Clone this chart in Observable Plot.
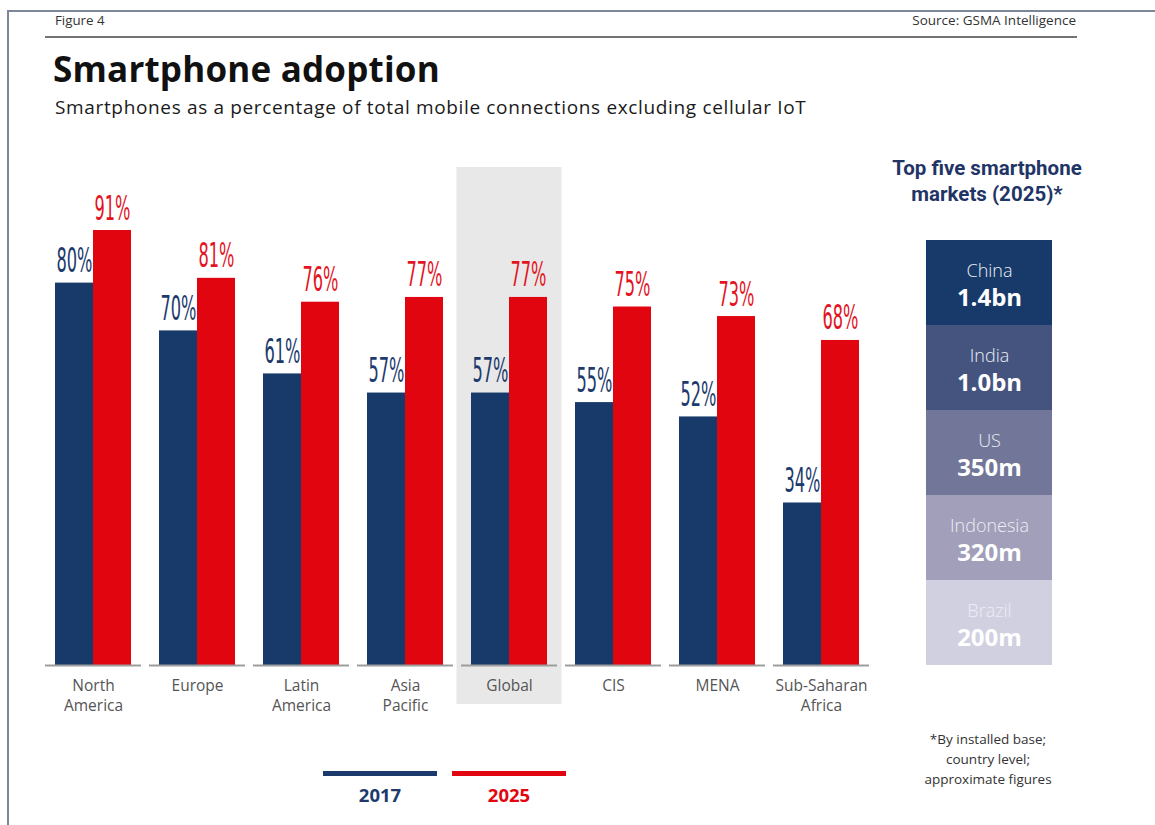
<!DOCTYPE html>
<html>
<head>
<meta charset="utf-8">
<script src="https://cdn.jsdelivr.net/npm/d3@7"></script>
<script src="https://cdn.jsdelivr.net/npm/@observablehq/plot@0.6"></script>
<style>
  html, body { margin: 0; padding: 0; background: #fff; }
  #page { position: relative; width: 1155px; height: 825px; overflow: hidden; background: #fff; font-family: "Open Sans", sans-serif; }
  .abs { position: absolute; }
  #frame { left: 7px; top: 10px; width: 1160px; height: 830px; border-top: 2px solid #7d8799; border-left: 2px solid #7d8799; }
  #fig { left: 55px; top: 11px; font-size: 13.3px; color: #333; }
  #src { right: 79px; top: 11px; font-size: 13.5px; color: #333; }
  #hline { left: 45px; top: 36px; width: 1032px; height: 2px; background: #737373; }
  #title { left: 53px; top: 45px; font-size: 35px; font-weight: 700; color: #111; letter-spacing: 0.2px; }
  #subtitle { left: 55px; top: 94px; font-size: 19px; letter-spacing: 0.65px; color: #1a1a1a; }
  #bars { left: 0; top: 140px; }
  #sidetitle { left: 868px; top: 155px; width: 238px; text-align: center; font-family: Roboto, sans-serif; font-weight: 700; font-size: 20.5px; line-height: 26px; color: #1f3566; }
  #side { left: 926px; top: 239px; }
  #note { left: 888px; top: 729px; width: 200px; text-align: center; font-size: 13.5px; line-height: 20px; color: #333; }
  .lg { height: 5px; top: 771px; width: 114px; }
  .lgt { top: 782px; width: 114px; text-align: center; font-size: 18.5px; font-weight: 700; }
</style>
</head>
<body>
<div id="page">
  <div id="frame" class="abs"></div>
  <div id="fig" class="abs">Figure 4</div>
  <div id="src" class="abs">Source: GSMA Intelligence</div>
  <div id="hline" class="abs"></div>
  <div id="title" class="abs">Smartphone adoption</div>
  <div id="subtitle" class="abs">Smartphones as a percentage of total mobile connections excluding cellular IoT</div>
  <div id="bars" class="abs"></div>
  <div id="sidetitle" class="abs">Top five smartphone<br>markets (2025)*</div>
  <div id="side" class="abs"></div>
  <div id="note" class="abs">*By installed base;<br>country level;<br>approximate figures</div>
  <div class="abs lg" style="left:323px;background:#1c3a6c"></div>
  <div class="abs lg" style="left:452px;background:#e1050f"></div>
  <div class="abs lgt" style="left:323px;color:#1c3a6c">2017</div>
  <div class="abs lgt" style="left:452px;color:#e1050f">2025</div>
</div>
<script>
// ---- data ----
const regions = ["North America", "Europe", "Latin America", "Asia Pacific", "Global", "CIS", "MENA", "Sub-Saharan Africa"];
const regionLabels = ["North\nAmerica", "Europe", "Latin\nAmerica", "Asia\nPacific", "Global", "CIS", "MENA", "Sub-Saharan\nAfrica"];
const years = ["2017", "2025"];
const share2017 = [80, 70, 61, 57, 57, 55, 52, 34];
const share2025 = [91, 81, 76, 77, 77, 75, 73, 68];
const highlighted = ["Global"];
const markets = ["China", "India", "US", "Indonesia", "Brazil"];
const marketValues = ["1.4bn", "1.0bn", "350m", "320m", "200m"];

// ---- styles ----
const yearColors = ["#173a6b", "#e1050f"];
const yearLabelColors = ["#1c3a6c", "#e3141f"];
const marketColors = ["#173a6a", "#45547f", "#727799", "#a19fba", "#d1d0e1"];

const table = [];
regions.forEach((r, i) => {
  table.push({region: r, year: years[0], value: share2017[i]});
  table.push({region: r, year: years[1], value: share2025[i]});
});

const chart = Plot.plot({
  width: 880,
  height: 590,
  marginLeft: 44,
  marginRight: 10,
  marginTop: 47,
  marginBottom: 65,
  fx: {domain: regions, paddingInner: 0.079, paddingOuter: 0, axis: null, label: null},
  x: {domain: years, paddingInner: 0, paddingOuter: 0.245, axis: null},
  y: {domain: [0, 100], axis: null},
  color: {domain: years, range: yearColors},
  marks: [
    Plot.rect(highlighted.map(r => ({region: r})), {
      fx: "region", fill: "#e8e8e8",
      insetTop: -20, insetBottom: -39, insetLeft: -4.5, insetRight: -4.5
    }),
    Plot.barY(table, {fx: "region", x: "year", y: "value", fill: "year"}),
    Plot.ruleY([0], {stroke: "#9d9d9d", strokeWidth: 2}),
    Plot.text(table, {
      fx: "region", x: "year", y: "value",
      text: d => d.value + "%",
      fill: d => yearLabelColors[years.indexOf(d.year)],
      lineAnchor: "bottom", dy: -11,
      fontSize: 34, fontFamily: "Liberation Sans Narrow, DejaVu Sans Condensed, Liberation Sans, sans-serif",
      className: "vlab"
    }),
    Plot.text(regions, {
      fx: d => d, text: (d, i) => regionLabels[i],
      frameAnchor: "bottom", lineAnchor: "top", dy: 11, lineHeight: 1.3,
      fontSize: 15.5, fill: "#555", fontFamily: "Open Sans, sans-serif"
    })
  ]
});
document.getElementById("bars").appendChild(chart);

// condense the value labels horizontally
d3.select(chart).selectAll(".vlab text").each(function() {
  const t = this.getAttribute("transform") || "";
  this.setAttribute("transform", t + " scale(0.53,1)");
});

const side = Plot.plot({
  width: 126,
  height: 426,
  margin: 0,
  y: {domain: markets, padding: 0, axis: null},
  color: {domain: markets, range: marketColors},
  marks: [
    Plot.cell(markets, {y: d => d, fill: d => d}),
    Plot.text(markets, {y: d => d, text: d => d, dy: -12, fill: "#eceef4", fontSize: 18, fontFamily: "Open Sans, sans-serif", fontWeight: 300}),
    Plot.text(markets, {y: d => d, text: (d, i) => marketValues[i], dy: 15, fill: "#ffffff", fontSize: 24, fontWeight: 700, fontFamily: "Open Sans, sans-serif"})
  ]
});
document.getElementById("side").appendChild(side);
</script>
</body>
</html>
